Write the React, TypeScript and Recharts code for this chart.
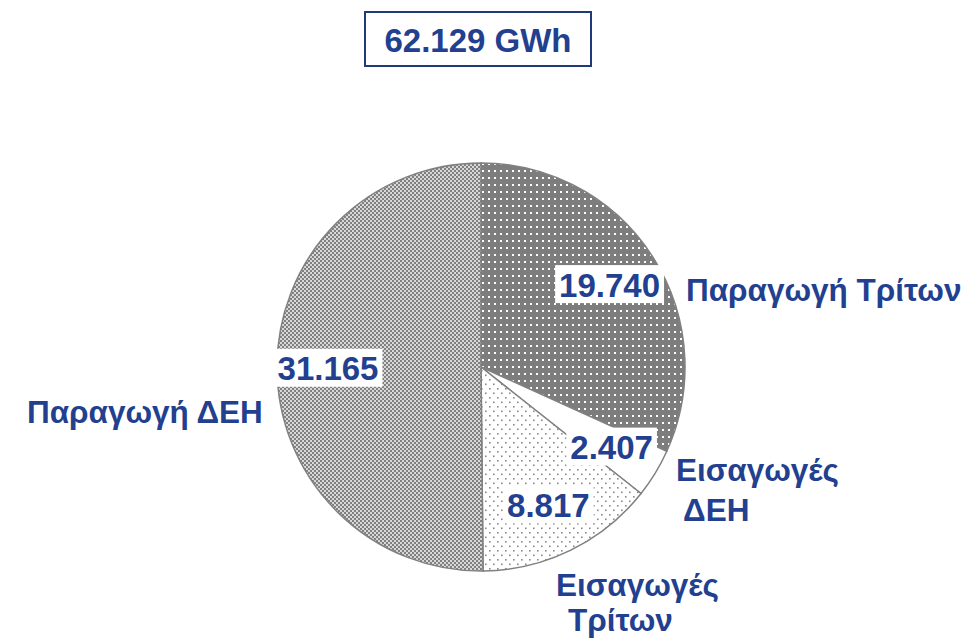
import React from "react";
import { PieChart, Pie, Cell } from "recharts";

const categories = ["Παραγωγή Τρίτων", "Εισαγωγές ΔΕΗ", "Εισαγωγές Τρίτων", "Παραγωγή ΔΕΗ"];
const values = [19.74, 2.407, 8.817, 31.165];
const valueLabels = ["19.740", "2.407", "8.817", "31.165"];
const categoryLines = [["Παραγωγή Τρίτων"], ["Εισαγωγές", "ΔΕΗ"], ["Εισαγωγές", "Τρίτων"], ["Παραγωγή ΔΕΗ"]];
const totalLabel = "62.129 GWh";

const BLUE = "#233f8f";
const FONT = "'Liberation Sans', Arial, sans-serif";
const fills = ["url(#patDark)", "#ffffff", "url(#patLight)", "url(#patChecker)"];

// label layout: offsets of each text line (start x, center y) relative to pie center
const catLayout = [
  [[205, -77]],
  [[195, 103], [202, 143]],
  [[75, 218], [87, 253]],
  [[-454, 45]],
];

const data = categories.map((c, i) => ({ name: c, value: values[i] }));

function textWidth(s: string, fs: number) {
  let w = 0;
  for (const ch of s) w += ch === "." ? 0.278 : 0.556;
  return w * fs;
}

const renderLabel = (props: any) => {
  const { cx, cy, midAngle, outerRadius, index } = props;
  const RAD = Math.PI / 180;
  const r = outerRadius * 0.75;
  const x = cx + r * Math.cos(-midAngle * RAD);
  const y = cy + r * Math.sin(-midAngle * RAD);
  const fs = 33;
  const txt = valueLabels[index];
  const w = textWidth(txt, fs) + 8;
  const h = 38;
  return (
    <g key={"lbl" + index}>
      <rect x={x - w / 2} y={y - h / 2} width={w} height={h} fill="#ffffff" />
      <text x={x} y={y + 1} textAnchor="middle" dominantBaseline="central" fill={BLUE} fontSize={fs} fontWeight="bold" fontFamily={FONT}>
        {txt}
      </text>
      {categoryLines[index].map((line, j) => (
        <text key={j} x={cx + catLayout[index][j][0]} y={cy + catLayout[index][j][1]} textAnchor="start" dominantBaseline="central" fill={BLUE} fontSize={31.5} fontWeight="bold" fontFamily={FONT}>
          {line}
        </text>
      ))}
    </g>
  );
};

export default function App() {
  return (
    <div style={{ position: "absolute", left: 0, top: 0, width: 977, height: 638, background: "#fff" }}>
      <PieChart width={977} height={638} margin={{ top: 0, right: 0, bottom: 0, left: 0 }}>
        <defs>
          <pattern id="patDark" width="6" height="7" patternUnits="userSpaceOnUse">
            <rect width="6" height="7" fill="#7d7d7d" />
            <rect x="2" y="2" width="2" height="2" fill="#ffffff" />
          </pattern>
          <pattern id="patLight" width="8" height="9" patternUnits="userSpaceOnUse">
            <rect width="8" height="9" fill="#ffffff" />
            <rect x="1" y="1" width="1.6" height="1.6" fill="#8a8a8a" />
            <rect x="5" y="5.5" width="1.6" height="1.6" fill="#8a8a8a" />
          </pattern>
          <pattern id="patChecker" width="4" height="4" patternUnits="userSpaceOnUse">
            <rect width="4" height="4" fill="#d8d8d8" />
            <rect x="0" y="0" width="2" height="2" fill="#808080" />
            <rect x="2" y="2" width="2" height="2" fill="#808080" />
          </pattern>
        </defs>
        <rect x={365} y={12} width={226} height={54} fill="#ffffff" stroke="#1f3a7a" strokeWidth={2} />
        <text x={478} y={40} textAnchor="middle" dominantBaseline="central" fill={BLUE} fontSize={33} fontWeight="bold" fontFamily={FONT}>
          {totalLabel}
        </text>
        <Pie
          data={data}
          dataKey="value"
          nameKey="name"
          cx={481}
          cy={367}
          outerRadius={204}
          startAngle={90}
          endAngle={-270}
          stroke="#808080"
          strokeWidth={1.5}
          label={renderLabel}
          labelLine={false}
          isAnimationActive={false}
        >
          {data.map((d, i) => (
            <Cell key={i} fill={fills[i]} />
          ))}
        </Pie>
      </PieChart>
    </div>
  );
}
